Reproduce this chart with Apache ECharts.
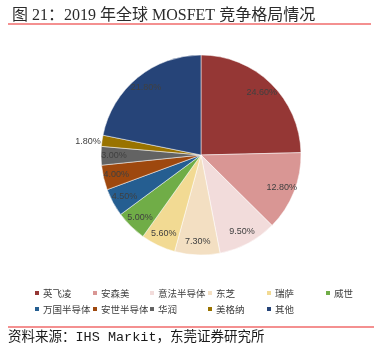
<!DOCTYPE html>
<html><head><meta charset="utf-8">
<script src="https://cdn.jsdelivr.net/npm/echarts@6/dist/echarts.min.js"></script>
<style>html,body{margin:0;padding:0;background:#fff}#c{width:377px;height:357px}</style>
</head><body><div id="c"></div>
<script>
const categories = ['英飞凌','安森美','意法半导体','东芝','瑞萨','威世','万国半导体','安世半导体','华润','美格纳','其他'];
const shares = [24.6, 12.8, 9.5, 7.3, 5.6, 5.0, 4.5, 4.0, 3.0, 1.8, 21.8];
const colors = ['#953735','#d99694','#f2dcdb','#f3dfc2','#f2da93','#70ad47','#255e91','#9e480e','#636363','#997300','#264478'];
const legendColumns = [['英飞凌','万国半导体'],['安森美','安世半导体'],['意法半导体','华润'],['东芝','美格纳'],['瑞萨','其他'],['威世']];
const legendX = [28, 86, 143, 201, 260, 319];

const pieData = categories.map((n,i)=>({name:n, value:shares[i], itemStyle:{color:colors[i]}}));
const labelData = categories.map((n,i)=>{
  const d = {name:n, value:shares[i]};
  if (shares[i] < 2) d.label = {offset:[-27,-1]};
  return d;
});

const chart = echarts.init(document.getElementById('c'));
chart.setOption({
  animation:false,
  color: colors,
  title:{text:'图 21：2019 年全球 MOSFET 竞争格局情况', left:7, top:3,
    textStyle:{fontSize:16, fontWeight:'normal', color:'#2b2b2b', fontFamily:"'Liberation Serif','Noto Sans CJK SC',serif"}},
  legend: legendColumns.map((col,k)=>({
    data: col, orient:'vertical', left: legendX[k], top: 282,
    icon:'rect', itemWidth:6, itemHeight:6, itemGap:4,
    selectedMode:false,
    textStyle:{fontSize:9.5, color:'#404040', lineHeight:12, padding:[0,0,0,-2], fontFamily:"'Noto Sans CJK SC',sans-serif"}
  })),
  graphic:[
    {type:'line', shape:{x1:8,y1:24,x2:371,y2:24}, style:{stroke:'#f06b6b', lineWidth:1.5}},
    {type:'line', shape:{x1:8,y1:327,x2:374,y2:327}, style:{stroke:'#f06b6b', lineWidth:1.5}},
    {type:'text', left:8, top:331, style:{text:'资料来源：IHS Markit，东莞证券研究所', fontSize:13.5, fill:'#1a1a1a', fontFamily:"'Liberation Mono','Noto Sans CJK SC',monospace"}}
  ],
  series:[
    {type:'pie', center:[201,155], radius:[0,100], startAngle:90, clockwise:true,
     silent:true, label:{show:false}, labelLine:{show:false},
     itemStyle:{borderColor:'#ffffff', borderWidth:0.5},
     data: pieData},
    {type:'pie', center:[201,155], radius:[68,100], startAngle:90, clockwise:true,
     silent:true, itemStyle:{color:'rgba(0,0,0,0)'}, labelLine:{show:false},
     label:{show:true, position:'inside', formatter:p=>shares[p.dataIndex].toFixed(2)+'%',
       fontSize:9, color:'#404040', fontFamily:"'Liberation Sans Narrow','Liberation Sans',sans-serif"},
     data: labelData}
  ]
});
</script></body></html>
